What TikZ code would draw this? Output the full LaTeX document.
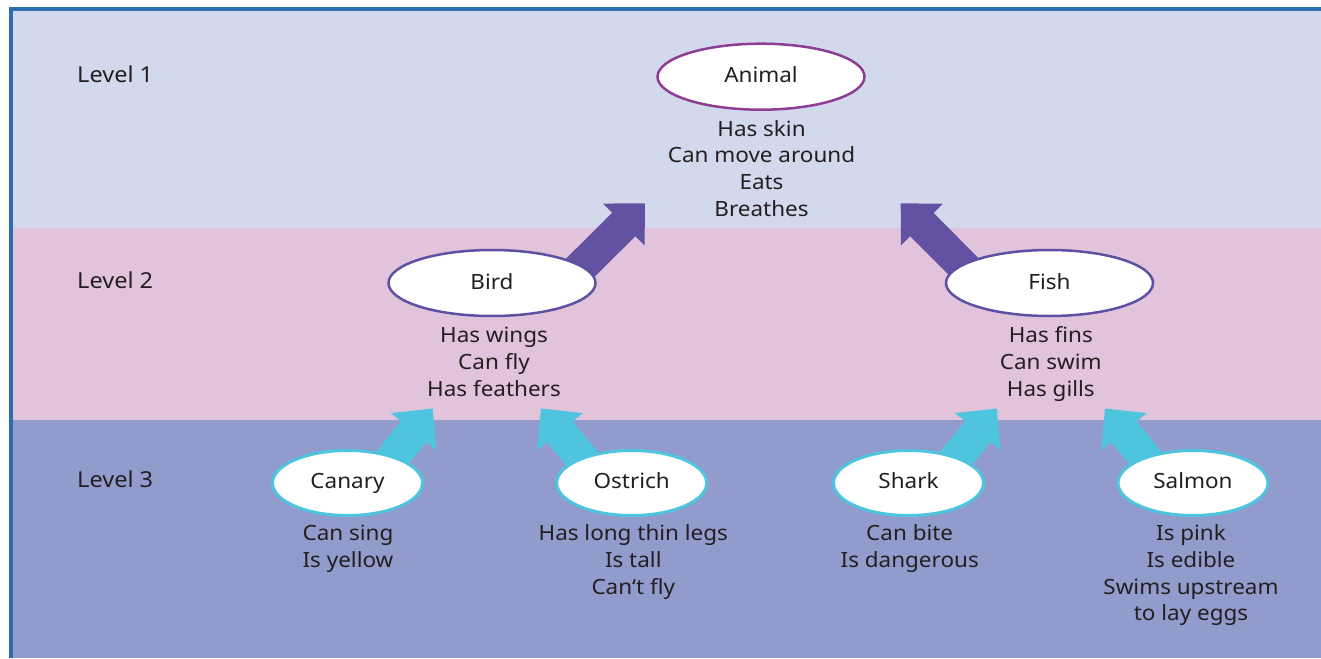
\documentclass[tikz,border=0pt]{standalone}
\usepackage{fontspec}
\setmainfont[FakeStretch=1.07]{Noto Sans}
\usetikzlibrary{shapes.geometric,calc}
\definecolor{bandA}{HTML}{D3D9EC}
\definecolor{bandB}{HTML}{E2C3DC}
\definecolor{bandC}{HTML}{919CCD}
\definecolor{frame}{HTML}{2D6CB5}
\definecolor{txt}{HTML}{231F20}
\definecolor{animalC}{HTML}{8E3D94}
\definecolor{birdC}{HTML}{5E50A2}
\definecolor{arrowP}{HTML}{6351A1}
\definecolor{arrowC}{HTML}{4FC4DF}
\pgfdeclarelayer{bg}
\pgfdeclarelayer{arrows}
\pgfsetlayers{bg,arrows,main}
\newcommand{\blockarrow}[3]{%
  \coordinate (bah) at ($(#3)!30pt!(#2)$);
  \fill[#1] ($(#2)!16.5pt!90:(#3)$) -- ($(bah)!16.5pt!90:(#3)$) -- ($(bah)!29.5pt!90:(#3)$)
    -- (#3) -- ($(bah)!29.5pt!-90:(#3)$) -- ($(bah)!16.5pt!-90:(#3)$) -- ($(#2)!16.5pt!-90:(#3)$) -- cycle;}
\begin{document}
\begin{tikzpicture}[x=1pt,y=-1pt,
  fnt/.style={font=\fontsize{21}{26.6}\selectfont, text=txt},
  ell/.style={fnt, ellipse, fill=white, inner sep=0pt, text height=16pt},
  big/.style={ell, text depth=4pt, line width=2.5pt, minimum width=207pt, minimum height=66pt},
  small/.style={ell, text depth=6pt, draw=arrowC, line width=3pt, minimum width=150pt, minimum height=65pt},
  desc/.style={fnt, anchor=north, inner sep=0pt, align=center},
  lvl/.style={font=\fontsize{22}{26.6}\selectfont, text=txt, anchor=base west, inner sep=0pt}]
\useasboundingbox (0,0) rectangle (1321,658);
\begin{pgfonlayer}{bg}
\fill[bandA] (11,9) rectangle (1321,228);
\fill[bandB] (11,228) rectangle (1321,420);
\fill[bandC] (11,420) rectangle (1321,658);
\draw[frame, line width=3.4pt] (11,658) -- (11,9.2) -- (1321,9.2);
\end{pgfonlayer}

\node[lvl] (l1) at (77,82.3) {Level 1};
\node[lvl] (l2) at (77,288.5) {Level 2};
\node[lvl] (l3) at (77,487.5) {Level 3};

\node[big, draw=animalC] (animal) at (761,76.7) {Animal};
\node[big, draw=birdC] (bird) at (492,283) {Bird};
\node[big, draw=birdC] (fish) at (1049.5,283) {Fish};
\node[small] (canary) at (347.5,483) {Canary};
\node[small] (ostrich) at (631.7,483) {Ostrich};
\node[small] (shark) at (908.5,483) {Shark};
\node[small] (salmon) at (1193,483) {Salmon};

\node[desc] (animalD) at (761.5,120) {\rule{0pt}{16pt}Has skin\\Can move around\\Eats\\Breathes};
\node[desc] (birdD) at (494,326.7) {\rule{0pt}{16pt}Has wings\\Can fly\\Has feathers};
\node[desc] (fishD) at (1050.8,326.7) {\rule{0pt}{16pt}Has fins\\Can swim\\Has gills};
\node[desc] (canaryD) at (348,524.7) {\rule{0pt}{16pt}Can sing\\Is yellow};
\node[desc] (ostrichD) at (633.3,524.7) {\rule{0pt}{16pt}Has long thin legs\\Is tall\\Can{\char"2018}t fly};
\node[desc] (sharkD) at (909.7,524.7) {\rule{0pt}{16pt}Can bite\\Is dangerous};
\node[desc] (salmonD) at (1191,524.7) {\rule{0pt}{16pt}Is pink\\Is edible\\Swims upstream\\to lay eggs};

\coordinate (tipBA) at (645,203.3);
\coordinate (tipFA) at (900.7,203.3);
\coordinate (tipCB) at (432.7,408.5);
\coordinate (tipOB) at (541,408.5);
\coordinate (tipSF) at (996.7,408.5);
\coordinate (tipMF) at (1105,408.5);

\begin{pgfonlayer}{arrows}
\coordinate (sBA) at ($(bird)+(78,-5)$);
\blockarrow{arrowP}{sBA}{tipBA}
\coordinate (sFA) at ($(fish)+(-74.5,-5)$);
\blockarrow{arrowP}{sFA}{tipFA}
\coordinate (sCB) at ($(canary)+(34.6,-12.5)$);
\blockarrow{arrowC}{sCB}{tipCB}
\coordinate (sOB) at ($(ostrich)+(-40.1,-12.5)$);
\blockarrow{arrowC}{sOB}{tipOB}
\coordinate (sSF) at ($(shark)+(37.6,-12.5)$);
\blockarrow{arrowC}{sSF}{tipSF}
\coordinate (sMF) at ($(salmon)+(-37.4,-12.5)$);
\blockarrow{arrowC}{sMF}{tipMF}
\end{pgfonlayer}
\end{tikzpicture}
\end{document}
